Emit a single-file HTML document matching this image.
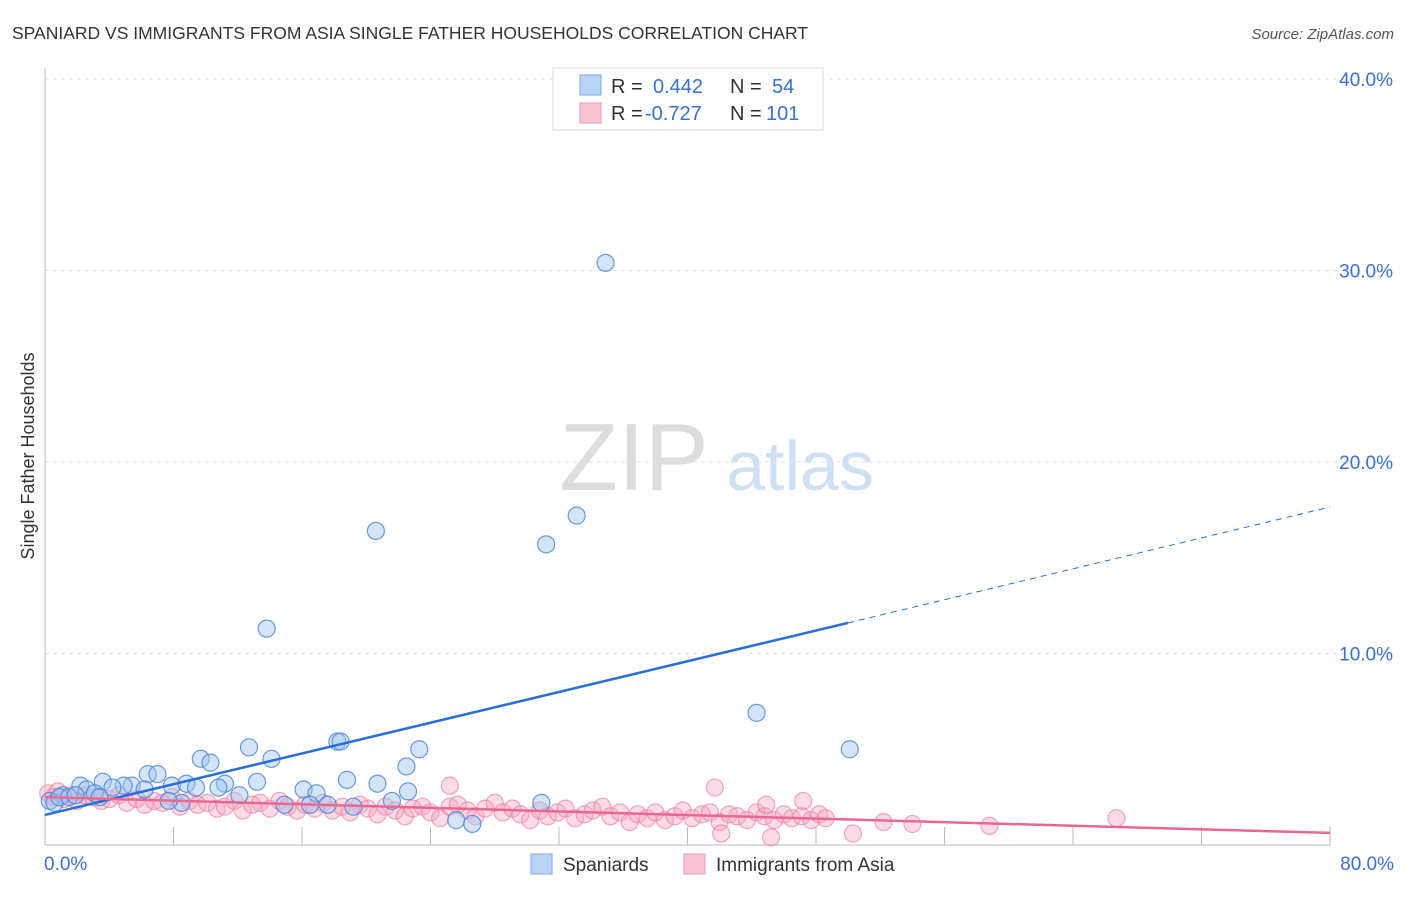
<!DOCTYPE html>
<html><head><meta charset="utf-8"><style>
body{margin:0;background:#fff;font-family:"Liberation Sans",sans-serif;}
svg text{font-family:"Liberation Sans",sans-serif;}
</style></head><body>
<svg id="chart" width="1406" height="892" xmlns="http://www.w3.org/2000/svg">
<text x="12" y="39" font-size="17.5" fill="#333">SPANIARD VS IMMIGRANTS FROM ASIA SINGLE FATHER HOUSEHOLDS CORRELATION CHART</text>
<text x="1394" y="39" font-size="15" fill="#555" text-anchor="end" font-style="italic">Source: ZipAtlas.com</text>
<text transform="translate(34,456) rotate(-90)" font-size="18" fill="#333" text-anchor="middle">Single Father Households</text>
<g>
<text x="634" y="490" font-size="96" fill="#ddd" font-family="Liberation Serif" text-anchor="middle">ZIP</text>
<text x="800" y="490" font-size="70" fill="#cfe0f5" text-anchor="middle">atlas</text>
</g>
<g id="grid"></g><g id="axes"></g><g id="pink"></g><g id="blue"></g><g id="lines"></g>
<g>
<rect x="553" y="68" width="270" height="62" fill="#fff" stroke="#ddd"/>
<rect x="580" y="75" width="21" height="20" fill="#b9d4f7" stroke="#7aa8e6"/>
<rect x="580" y="103" width="21" height="20" fill="#f9c4d3" stroke="#ec99b3"/>
<text x="611" y="93" font-size="20" fill="#333">R =</text><text x="653" y="93" font-size="20" fill="#3a70cf">0.442</text>
<text x="730" y="93" font-size="20" fill="#333">N =</text><text x="772" y="93" font-size="20" fill="#3a70cf">54</text>
<text x="611" y="120" font-size="20" fill="#333">R =</text><text x="645" y="120" font-size="20" fill="#3a70cf">-0.727</text>
<text x="730" y="120" font-size="20" fill="#333">N =</text><text x="766" y="120" font-size="20" fill="#3a70cf">101</text>
</g>
<g>
<rect x="531" y="854" width="21" height="20" fill="#b9d4f7" stroke="#7aa8e6"/>
<text x="563" y="871" font-size="19" fill="#333">Spaniards</text>
<rect x="684" y="854" width="21" height="20" fill="#f9c4d3" stroke="#ec99b3"/>
<text x="716" y="871" font-size="19" fill="#333">Immigrants from Asia</text>
</g>
</svg>
<script>
const yTicks=[10,20,30,40];
const yTickLabels=["10.0%","20.0%","30.0%","40.0%"];
const xTickLabels=["0.0%","80.0%"];
const blueX=[34.9,20.6,33.1,31.2,13.8,44.3,50.1,12.7,18.2,18.4,9.7,10.3,14.1,23.3,22.5,6.4,7.0,2.2,3.6,5.4,4.9,4.2,2.6,1.1,7.9,8.8,9.4,11.2,10.8,12.1,13.2,16.1,16.9,18.8,20.7,22.6,21.6,14.9,16.5,17.6,19.2,30.9,25.6,26.6,0.3,0.6,0.9,1.5,1.9,3.1,8.5,7.7,6.2,3.4];
const blueY=[30.4,16.4,17.2,15.7,11.3,6.9,5.0,5.1,5.4,5.4,4.5,4.3,4.5,5.0,4.1,3.7,3.7,3.1,3.3,3.1,3.1,3.0,2.9,2.6,3.1,3.2,3.0,3.2,3.0,2.6,3.3,2.9,2.7,3.4,3.2,2.8,2.3,2.1,2.1,2.1,2.0,2.2,1.3,1.1,2.3,2.2,2.5,2.5,2.6,2.7,2.2,2.3,2.9,2.5];
const pinkX=[0.2,0.5,0.8,1.2,1.6,2.0,2.5,3.0,3.5,4.0,4.6,5.1,5.7,6.2,6.8,7.3,7.9,8.4,9.0,9.5,10.1,10.7,11.2,11.8,12.3,12.9,13.4,14.0,14.6,15.1,15.7,16.2,16.8,17.3,17.9,18.5,19.0,19.6,20.1,20.7,21.2,21.8,22.4,22.9,23.5,24.0,24.6,25.2,25.7,26.3,26.8,27.4,28.0,28.5,29.1,29.6,30.2,30.8,31.3,31.9,32.4,33.0,33.6,34.1,34.7,35.2,35.8,36.4,36.9,37.5,38.0,38.6,39.2,39.7,40.3,40.9,41.4,42.0,42.6,43.1,43.7,44.3,44.8,45.4,46.0,46.5,47.1,47.7,48.2,25.2,41.7,47.2,44.9,66.7,58.8,54.0,52.2,50.3,45.2,42.1,48.6];
const pinkY=[2.7,2.5,2.8,2.4,2.6,2.3,2.6,2.5,2.3,2.4,2.6,2.2,2.4,2.1,2.3,2.2,2.5,2.0,2.3,2.1,2.2,1.9,2.0,2.3,1.8,2.1,2.2,1.9,2.3,2.0,1.8,2.1,1.9,2.2,1.8,2.0,1.7,2.1,1.9,1.6,2.0,1.8,1.5,1.9,2.0,1.7,1.4,2.0,2.1,1.8,1.5,1.9,2.2,1.7,1.9,1.6,1.3,1.8,1.5,1.7,1.9,1.4,1.6,1.8,2.0,1.5,1.7,1.2,1.6,1.4,1.7,1.3,1.5,1.8,1.4,1.6,1.7,1.2,1.6,1.5,1.3,1.7,1.5,1.3,1.6,1.4,1.5,1.3,1.6,3.1,3.0,2.3,2.1,1.4,1.0,1.1,1.2,0.6,0.4,0.6,1.4];
const blueLine=[[0,1.57],[50,11.6],[80,17.65]];
const pinkLine=[[0,2.5],[80,0.63]];
const X0=45,X1=1330,Y0=845,PY=19.15;
const sx=v=>X0+(X1-X0)*v/80, sy=v=>Y0-v*PY;
const NS="http://www.w3.org/2000/svg";
function mk(p,t,a){const e=document.createElementNS(NS,t);for(const k in a)e.setAttribute(k,a[k]);document.getElementById(p).appendChild(e);return e;}
yTicks.forEach((v,i)=>{
 const g=mk('grid','line',{x1:X0,x2:1392,y1:sy(v),y2:sy(v),stroke:'#e2e2e2','stroke-dasharray':'4,4'});
 
 
 const t=mk('grid','text',{x:1393,y:sy(v)+7,'font-size':19,fill:'#3a70cf','text-anchor':'end'});t.textContent=yTickLabels[i];
 
 
});
let ax=mk('axes','line',{x1:X0,x2:X0,y1:68,y2:Y0,stroke:'#bbb'});


ax=mk('axes','line',{x1:X0,x2:X1,y1:Y0,y2:Y0,stroke:'#bbb'});


for(let i=1;i<=10;i++){const t=mk('axes','line',{x1:sx(i*8),x2:sx(i*8),y1:Y0,y2:Y0-18,stroke:'#bbb'});
 
 }
[[0,'start',44],[80,'end',1394]].forEach((d,i)=>{const t=mk('axes','text',{x:d[2],y:870,'font-size':19,fill:'#3a70cf','text-anchor':d[1]});t.textContent=xTickLabels[i];
 
 });
pinkX.forEach((x,i)=>{const c=mk('pink','circle',{cx:sx(x),cy:sy(pinkY[i]),r:8.5,fill:'rgba(246,166,191,0.4)',stroke:'rgba(236,130,165,0.7)','stroke-width':1.2});
 
 });
blueX.forEach((x,i)=>{const c=mk('blue','circle',{cx:sx(x),cy:sy(blueY[i]),r:8.5,fill:'rgba(160,197,242,0.45)',stroke:'rgba(70,130,215,0.8)','stroke-width':1.2});
 
 });
let l=mk('lines','line',{x1:sx(blueLine[0][0]),y1:sy(blueLine[0][1]),x2:sx(blueLine[1][0]),y2:sy(blueLine[1][1]),stroke:'#2a6fd6','stroke-width':2.5});


l=mk('lines','line',{x1:sx(blueLine[1][0]),y1:sy(blueLine[1][1]),x2:sx(blueLine[2][0]),y2:sy(blueLine[2][1]),stroke:'#2a6fd6','stroke-width':1,'stroke-dasharray':'6,5'});


l=mk('lines','line',{x1:sx(pinkLine[0][0]),y1:sy(pinkLine[0][1]),x2:sx(pinkLine[1][0]),y2:sy(pinkLine[1][1]),stroke:'#e86890','stroke-width':2.5});


</script>
</body></html>
